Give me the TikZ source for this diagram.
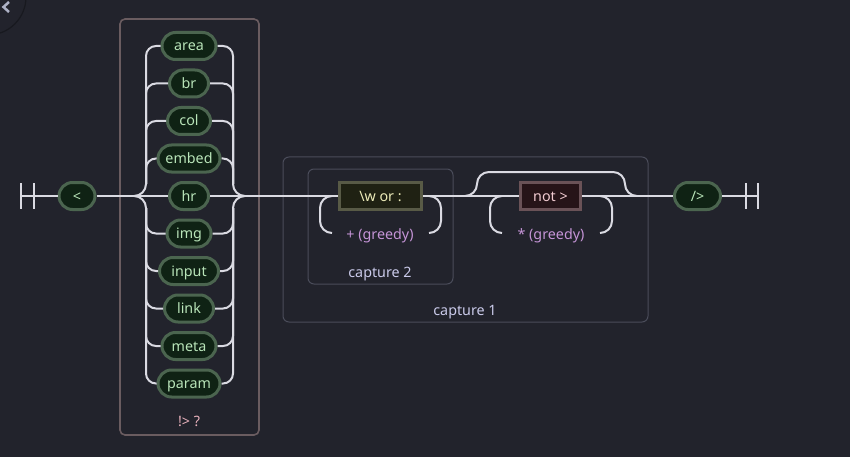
\documentclass[tikz,border=0pt]{standalone}
\usepackage{fontspec}
\setmainfont{Noto Sans}
\definecolor{bg}{HTML}{22232C}
\definecolor{rail}{HTML}{DADAE2}
\definecolor{gfill}{HTML}{0F2214}
\definecolor{gdraw}{HTML}{4B654F}
\definecolor{gtext}{HTML}{B9E5B9}
\definecolor{wfill}{HTML}{1F2113}
\definecolor{wdraw}{HTML}{585A46}
\definecolor{wtext}{HTML}{ECEBB8}
\definecolor{nfill}{HTML}{261418}
\definecolor{ndraw}{HTML}{6A5257}
\definecolor{ntext}{HTML}{F2CCD2}
\definecolor{capdraw}{HTML}{4A4C5A}
\definecolor{captext}{HTML}{CBCBEB}
\definecolor{grtext}{HTML}{C594D7}
\definecolor{grpdraw}{HTML}{6A5C60}
\definecolor{grptext}{HTML}{E8B1BC}
\definecolor{circ}{HTML}{18191F}
\definecolor{chev}{HTML}{AEB2C6}
\tikzset{
  railline/.style={draw=rail, line width=2pt},
  txt/.style={font=\fontsize{14.3}{16}\selectfont, text height=10pt, text depth=0pt},
  pill/.style={txt, draw=gdraw, fill=gfill, line width=3pt, text=gtext, rounded corners=13.5pt,
    minimum height=27pt, inner sep=0pt},
  wbox/.style={txt, draw=wdraw, fill=wfill, line width=3pt, text=wtext,
    minimum height=27pt, inner sep=0pt},
  nbox/.style={txt, draw=ndraw, fill=nfill, line width=3pt, text=ntext,
    minimum height=27pt, inner sep=0pt},
  capbox/.style={draw=capdraw, line width=1pt, rounded corners=6pt},
  grpbox/.style={draw=grpdraw, line width=1.6pt, rounded corners=5pt},
  caplabel/.style={txt, text=captext, inner sep=0pt},
  grlabel/.style={txt, text=grtext, inner sep=0pt},
  grplabel/.style={txt, text=grptext, inner sep=0pt},
}
\begin{document}
\begin{tikzpicture}[x=1pt,y=-1pt]
\useasboundingbox (0,0) rectangle (850,457);
\fill[bg] (0,0) rectangle (850,457);
\begin{scope}
\clip (0,0) rectangle (850,457);
\draw[circ, line width=1.2pt] (-12,-3) circle (38);
\end{scope}
\draw[chev, line width=2.5pt] (9,2) -- (3.5,7) -- (9,12);

% group boxes
\draw[grpbox] (120,19) rectangle (259,435);
\node[grplabel] (grpl) at (189,421) {!> ?};
\draw[capbox] (283,157) rectangle (648,322);
\node[caplabel] (cap1) at (465,310) {capture 1};
\draw[capbox] (308,169) rectangle (453,284);
\node[caplabel] (cap2) at (380,272) {capture 2};

% start and end
\coordinate (s1) at (21,196);
\coordinate (s2) at (34,196);
\coordinate (e1) at (746,196);
\coordinate (e2) at (758,196);
\draw[railline] (21,183) -- (21,209);
\draw[railline] (34,183) -- (34,209);
\draw[railline] (746,183) -- (746,209);
\draw[railline] (758,183) -- (758,209);

% nodes
\node[pill, minimum width=36pt] (lt) at (77,196) {<};
\node[pill, minimum width=54pt] (area) at (189,46) {area};
\node[pill, minimum width=39pt] (br) at (189,83.5) {br};
\node[pill, minimum width=43pt] (col) at (189,121) {col};
\node[pill, minimum width=62pt] (embed) at (189,158.5) {embed};
\node[pill, minimum width=39pt] (hr) at (189,196) {hr};
\node[pill, minimum width=44pt] (img) at (189,233.5) {img};
\node[pill, minimum width=59pt] (input) at (189,271) {input};
\node[pill, minimum width=49pt] (link) at (189,308.5) {link};
\node[pill, minimum width=54pt] (meta) at (189,346) {meta};
\node[pill, minimum width=62pt] (param) at (189,383.5) {param};
\node[wbox, minimum width=82pt] (wor) at (380.5,196) {\textbackslash w or :};
\node[nbox, minimum width=60pt] (notg) at (550.5,196) {not >};
\node[pill, minimum width=46pt] (cl) at (697.5,196) {/>};

% main line
\draw[railline] (s1) -- (lt.west);
\draw[railline] (lt.east) -- (hr.west);
\draw[railline] (hr.east) -- (wor.west);
\draw[railline] (wor.east) -- (notg.west);
\draw[railline] (notg.east) -- (cl.west);
\draw[railline] (cl.east) -- (e2);

% left brace and rail
\draw[railline, rounded corners=12pt] (134,196) -- (146,196) -- (146,184);
\draw[railline, rounded corners=12pt] (134,196) -- (146,196) -- (146,208);
\foreach \n in {area,br,col,embed} {
  \draw[railline, rounded corners=10pt] (146,184) |- (\n.west);
}
\foreach \n in {img,input,link,meta,param} {
  \draw[railline, rounded corners=10pt] (146,208) |- (\n.west);
}
% right brace and rail
\draw[railline, rounded corners=12pt] (245,196) -- (233,196) -- (233,184);
\draw[railline, rounded corners=12pt] (245,196) -- (233,196) -- (233,208);
\foreach \n in {area,br,col,embed} {
  \draw[railline, rounded corners=10pt] (233,184) |- (\n.east);
}
\foreach \n in {img,input,link,meta,param} {
  \draw[railline, rounded corners=10pt] (233,208) |- (\n.east);
}

% loop under \w or :
\draw[railline, rounded corners=12pt] (332,233) -- (320,233) -- (320,196) -- (332,196);
\draw[railline, rounded corners=12pt] (429,196) -- (441,196) -- (441,233) -- (429,233);
\node[grlabel] (g1) at (380,234.5) {+ (greedy)};

% loop under not >
\draw[railline, rounded corners=12pt] (502,233) -- (490,233) -- (490,196) -- (502,196);
\draw[railline, rounded corners=12pt] (600,196) -- (612,196) -- (612,233) -- (600,233);
\node[grlabel] (g2) at (551,234.5) {* (greedy)};

% bypass over not >
\draw[railline, rounded corners=12pt] (465,196) -- (477,196) -- (477,172) -- (625,172) -- (625,196) -- (637,196);
\end{tikzpicture}
\end{document}
